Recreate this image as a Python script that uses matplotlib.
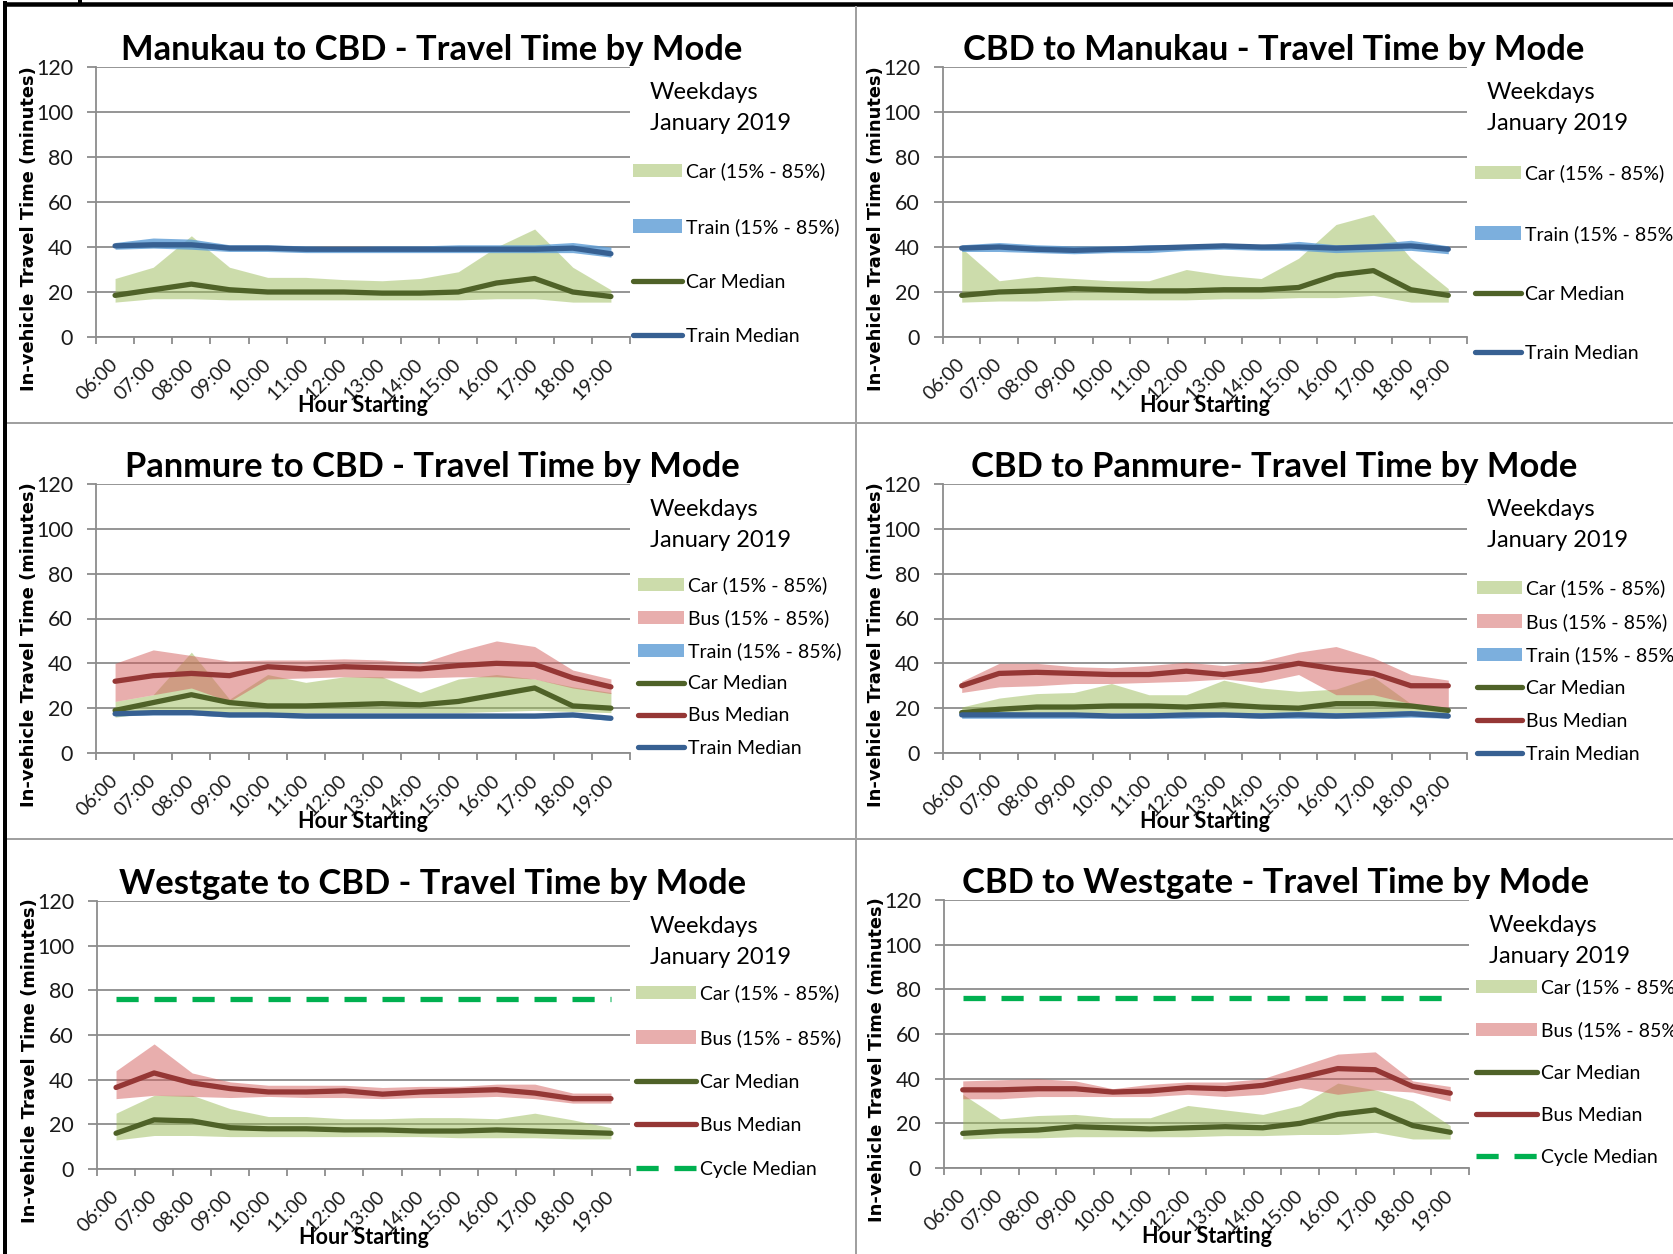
import numpy as np
import matplotlib.pyplot as plt
from matplotlib.lines import Line2D
from matplotlib.patches import Patch
from matplotlib.transforms import offset_copy

plt.rcParams['font.family'] = ['Lato', 'DejaVu Sans']

W, H, DPI = 1674, 1254, 100

hours = ['06:00', '07:00', '08:00', '09:00', '10:00', '11:00', '12:00',
         '13:00', '14:00', '15:00', '16:00', '17:00', '18:00', '19:00']

# Manukau to CBD
mc_car_lo = [15.5, 17, 17, 16.5, 16.5, 16.5, 16.5, 16.5, 16.5, 16.5, 17, 17, 15.5, 15.5]
mc_car_med = [18.5, 21, 23.5, 21, 20, 20, 20, 19.5, 19.5, 20, 24, 26, 20, 18]
mc_car_hi = [26, 31, 45, 31, 26.5, 26.5, 25.5, 25, 26, 29, 40, 48, 31, 21]
mc_train_lo = [39, 39.5, 39, 38, 38, 37.5, 37.5, 37.5, 37.5, 37.5, 37.5, 37.5, 37.5, 35.5]
mc_train_med = [40.5, 41, 41, 39.5, 39.5, 39, 39, 39, 39, 39, 39, 39, 39.5, 37]
mc_train_hi = [42, 44, 43.5, 41, 41, 40.5, 40, 40.5, 40.5, 41, 41, 41, 42, 40]

# CBD to Manukau
cm_car_lo = [15.5, 16, 16, 16.5, 16.5, 16.5, 16.5, 17, 17, 17.5, 17.5, 18.5, 15.5, 15.5]
cm_car_med = [18.5, 20, 20.5, 21.5, 21, 20.5, 20.5, 21, 21, 22, 27.5, 29.5, 21, 18.5]
cm_car_hi = [39.5, 25, 27, 26, 25, 25, 30, 27.5, 26, 35, 50, 54.5, 35, 21.5]
cm_train_lo = [38, 38, 37.5, 37, 37.5, 37.5, 38.5, 39, 38.5, 38.5, 37.5, 38, 38.5, 37]
cm_train_med = [39.5, 40, 39, 38.5, 39, 39.5, 40, 40.5, 40, 40, 39.5, 40, 40.5, 39]
cm_train_hi = [41, 42, 41, 40.5, 40.5, 41, 41, 41.5, 41, 42.5, 41, 41.5, 43, 40.5]

# Panmure to CBD
pc_car_lo = [16, 18, 19, 18, 18, 18, 18, 18, 18, 18, 18.5, 19, 18.5, 18]
pc_car_med = [19, 22.5, 26, 22.5, 21, 21, 21.5, 22, 21.5, 23, 26, 29, 21, 20]
pc_car_hi = [23, 26, 45, 24, 35, 31.5, 34, 34, 27, 33, 35, 33, 29.5, 27]
pc_bus_lo = [23, 26, 29, 23, 33, 33.5, 34, 33.5, 33.5, 34, 34, 33, 29, 26.5]
pc_bus_med = [32, 34.5, 35.5, 34.5, 38.5, 37.5, 38.5, 38, 37.5, 39, 40, 39.5, 33.5, 29.5]
pc_bus_hi = [40, 46, 43.5, 41, 41.5, 41.5, 42, 41.5, 40, 45.5, 50, 47.5, 37, 33]
pc_train_lo = [16.5, 17, 17, 16, 16, 15.5, 15.5, 15.5, 15.5, 15.5, 15.5, 15.5, 16, 14.5]
pc_train_med = [17.5, 18, 18, 17, 17, 16.5, 16.5, 16.5, 16.5, 16.5, 16.5, 16.5, 17, 15.5]
pc_train_hi = [18.5, 19, 19, 18, 18, 17.5, 17.5, 17.5, 17.5, 17.5, 17.5, 17.5, 18, 16.5]

# CBD to Panmure
cp_car_lo = [16, 17, 17.5, 17.5, 18, 18, 18, 18, 18, 18, 18, 18, 18.5, 17]
cp_car_med = [18, 19.5, 20.5, 20.5, 21, 21, 20.5, 21.5, 20.5, 20, 22, 22, 21, 19]
cp_car_hi = [20.5, 24.5, 26.5, 27, 31, 26, 26, 32.5, 29, 27.5, 28.5, 34, 22, 19.5]
cp_bus_lo = [27, 29.5, 30, 31, 31, 31.5, 32, 33, 31.5, 35, 26, 26, 22, 19]
cp_bus_med = [30, 35.5, 36, 35.5, 35, 35, 36.5, 35, 37, 40, 37.5, 35.5, 30, 30]
cp_bus_hi = [32, 40, 40, 38.5, 38, 39, 40.5, 39, 41, 45, 47.5, 42.5, 35, 32.5]
cp_train_lo = [15.5, 15.5, 15.5, 15.5, 15.5, 15.5, 15.5, 16, 15.5, 15.5, 15.5, 15.5, 16, 15.5]
cp_train_med = [17, 17, 17, 17, 16.5, 16.5, 17, 17, 16.5, 17, 16.5, 17, 17.5, 16.5]
cp_train_hi = [18.5, 18.5, 18, 18, 17.5, 18, 18, 18, 18, 18.5, 18, 18, 19, 18]

# Westgate to CBD
wc_car_lo = [13, 15, 15, 14.5, 14.5, 14.5, 14.5, 14.5, 14.5, 14, 14, 14, 13.5, 13.5]
wc_car_med = [16, 22, 21.5, 18.5, 18, 18, 17.5, 17.5, 17, 17, 17.5, 17, 16.5, 16]
wc_car_hi = [25, 33, 33, 27, 23.5, 23.5, 22.5, 22.5, 23, 23, 22.5, 25, 22, 18.5]
wc_bus_lo = [31.5, 33, 32.5, 32, 32.5, 32, 32, 31.5, 32, 32, 32.5, 31.5, 29.5, 29.5]
wc_bus_med = [36.5, 43, 38.5, 36, 34.5, 34.5, 35, 33.5, 34.5, 35, 35.5, 34, 31.5, 31.5]
wc_bus_hi = [44, 56, 43, 39, 37.5, 37.5, 37.5, 36.5, 37, 37, 38, 38, 34, 34]
wc_cycle = [76, 76, 76, 76, 76, 76, 76, 76, 76, 76, 76, 76, 76, 76]

# CBD to Westgate
cw_car_lo = [13, 13.5, 13.5, 14, 14, 14, 14, 14.5, 14.5, 15, 15, 16, 13, 13]
cw_car_med = [15.5, 16.5, 17, 18.5, 18, 17.5, 18, 18.5, 18, 20, 24, 26, 19, 16]
cw_car_hi = [33, 22, 23.5, 24, 22.5, 22.5, 28, 26, 24, 28, 38, 35, 30, 19]
cw_bus_lo = [31, 31, 32, 32, 32, 32, 33, 32, 33, 36, 33, 35, 34, 30]
cw_bus_med = [35, 35, 35.5, 35.5, 34, 34.5, 36, 35.5, 37, 40.5, 44.5, 44, 36.5, 33.5]
cw_bus_hi = [39, 39.5, 40, 39, 35.5, 37.5, 38.5, 38.5, 40, 45.5, 51, 52, 39, 36.5]
cw_cycle = [76, 76, 76, 76, 76, 76, 76, 76, 76, 76, 76, 76, 76, 76]

GRID = '#8c8c8c'
CAR_FILL, CAR_LINE = '#9bbb59', '#4f6228'
BUS_FILL, BUS_LINE = '#d25e5c', '#953735'
TRAIN_FILL, TRAIN_LINE = '#5b9bd5', '#376092'
CYCLE = '#00b050'
LW = 3.8
LEG_FS = 14
ROW_H = 17.3

fig = plt.figure(figsize=(W / DPI, H / DPI), dpi=DPI)


def px_axes(x0, y0, x1, y1):
    return fig.add_axes([x0 / W, 1 - y1 / H, (x1 - x0) / W, (y1 - y0) / H])


def off(ax, dx, dy):
    return offset_copy(ax.transAxes, fig=fig, x=dx, y=dy, units='dots')


def panel(box, title, car, bus=None, train=None, cycle=None, leg=None):
    ax = px_axes(*box)
    x = np.arange(len(hours))
    fills, lines = [], []

    def band(lo, hi, color, alpha, label):
        ax.fill_between(x, lo, hi, color=color, alpha=alpha, lw=0)
        fills.append(Patch(facecolor=color, alpha=alpha, label=label))

    def med(vals, color, label, **kw):
        ln, = ax.plot(x, vals, color=color, lw=LW, label=label,
                      solid_joinstyle='round', solid_capstyle='round', **kw)
        lines.append(ln)

    band(car[0], car[2], CAR_FILL, 0.5, 'Car (15% - 85%)')
    if bus is not None:
        band(bus[0], bus[2], BUS_FILL, 0.5, 'Bus (15% - 85%)')
    if train is not None:
        band(train[0], train[2], TRAIN_FILL, 0.8, 'Train (15% - 85%)')
    med(car[1], CAR_LINE, 'Car Median')
    if bus is not None:
        med(bus[1], BUS_LINE, 'Bus Median')
    if train is not None:
        med(train[1], TRAIN_LINE, 'Train Median')
    if cycle is not None:
        med(cycle, CYCLE, 'Cycle Median', dashes=(4.2, 3.0), dash_capstyle='butt')

    ax.set_xlim(-0.5, len(hours) - 0.5)
    ax.set_ylim(0, 120)
    ax.set_yticks(range(0, 121, 20))
    ax.yaxis.grid(True, color=GRID, lw=1.3)
    ax.set_axisbelow(True)
    for s in ['top', 'right']:
        ax.spines[s].set_visible(False)
    for s in ['left', 'bottom']:
        ax.spines[s].set_color(GRID)
        ax.spines[s].set_linewidth(1.3)
    ax.tick_params(axis='y', length=6.5, width=1.3, color=GRID,
                   labelsize=15.5, pad=10, labelcolor='#1a1a1a')
    ax.set_xticks(np.arange(-0.5, len(hours), 1))
    ax.set_xticklabels([])
    ax.tick_params(axis='x', which='major', length=5, width=1.3, color=GRID)
    ax.set_xticks(x, minor=True)
    ax.set_xticklabels(hours, minor=True, rotation=45, ha='right', va='center',
                       rotation_mode='anchor', fontsize=14, color='#1a1a1a')
    ax.tick_params(axis='x', which='minor', length=0, pad=18)
    for lab in ax.get_xticklabels(minor=True):
        lab.set_transform(lab.get_transform() + offset_copy(
            fig.dpi_scale_trans, fig=fig, x=4, y=0, units='dots') - fig.dpi_scale_trans)

    ax.text(0.5, 1, title, transform=off(ax, 69, 7), ha='center', va='baseline',
            fontsize=24.8, fontweight='bold')
    ax.text(0.5, 0, 'Hour Starting', transform=off(ax, 0, -75), ha='center',
            va='baseline', fontsize=15.5, fontweight='bold')
    ax.text(0, 0, 'In-vehicle Travel Time (minutes)', transform=off(ax, -67, 108),
            ha='center', va='center', rotation=90, fontsize=12.9,
            fontweight='bold', family='DejaVu Sans')
    ax.text(1, 1, 'Weekdays', transform=off(ax, 20, -32), ha='left',
            va='baseline', fontsize=17)
    ax.text(1, 1, 'January 2019', transform=off(ax, 20, -63), ha='left',
            va='baseline', fontsize=17)

    fs_px = LEG_FS * DPI / 72
    dx, first, step, hlen = leg
    handles = fills + lines
    ax.legend(handles=handles, loc='upper left', bbox_to_anchor=(1, 1),
              bbox_transform=off(ax, dx, -(first - ROW_H / 2)),
              labelspacing=(step - ROW_H) / fs_px, handlelength=hlen / fs_px,
              handletextpad=4 / fs_px, borderpad=0, borderaxespad=0,
              frameon=False, fontsize=LEG_FS)
    return ax


panel((96, 67, 630, 337), 'Manukau to CBD - Travel Time by Mode',
      (mc_car_lo, mc_car_med, mc_car_hi),
      train=(mc_train_lo, mc_train_med, mc_train_hi), leg=(3, 104, 55, 49))
panel((943, 67, 1467, 337), 'CBD to Manukau - Travel Time by Mode',
      (cm_car_lo, cm_car_med, cm_car_hi),
      train=(cm_train_lo, cm_train_med, cm_train_hi), leg=(8, 106, 60, 46))
panel((96, 484, 630, 753), 'Panmure to CBD - Travel Time by Mode',
      (pc_car_lo, pc_car_med, pc_car_hi),
      bus=(pc_bus_lo, pc_bus_med, pc_bus_hi),
      train=(pc_train_lo, pc_train_med, pc_train_hi), leg=(8, 101, 32.4, 46))
panel((943, 484, 1467, 753), 'CBD to Panmure- Travel Time by Mode',
      (cp_car_lo, cp_car_med, cp_car_hi),
      bus=(cp_bus_lo, cp_bus_med, cp_bus_hi),
      train=(cp_train_lo, cp_train_med, cp_train_hi), leg=(10, 104, 33, 45))
panel((97, 901, 630, 1169), 'Westgate to CBD - Travel Time by Mode',
      (wc_car_lo, wc_car_med, wc_car_hi),
      bus=(wc_bus_lo, wc_bus_med, wc_bus_hi), cycle=wc_cycle, leg=(6, 92, 44, 60))
panel((944, 900, 1469, 1168), 'CBD to Westgate - Travel Time by Mode',
      (cw_car_lo, cw_car_med, cw_car_hi),
      bus=(cw_bus_lo, cw_bus_med, cw_bus_hi), cycle=cw_cycle, leg=(7, 87, 42.5, 61))

# frame lines around the panels
def fline(xs, ys, color, lw_px):
    fig.add_artist(Line2D([v / W for v in xs], [1 - v / H for v in ys],
                          color=color, lw=lw_px * 72 / DPI, solid_capstyle='butt'))


fline([4, W], [3.5, 3.5], 'black', 4.5)
fline([80, 80], [0, 4], 'black', 4)
fline([5.5, 5.5], [1, H], 'black', 4)
fline([856, 856], [6, H], '#a0a0a0', 2)
fline([7, W], [423, 423], '#a0a0a0', 2)
fline([7, W], [839, 839], '#a0a0a0', 2)

fig.savefig('out.png', dpi=DPI, facecolor='white')
